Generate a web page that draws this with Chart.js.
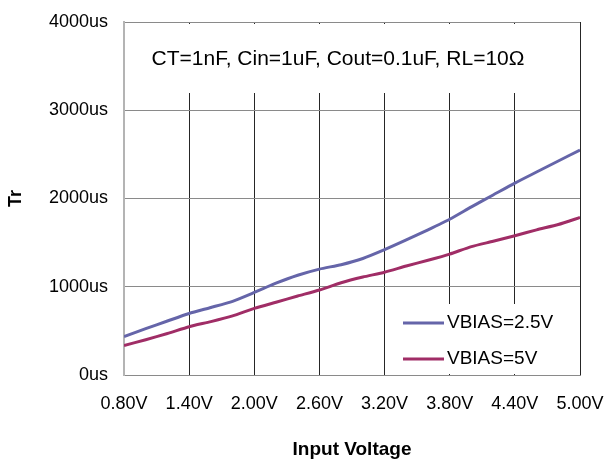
<!DOCTYPE html>
<html>
<head>
<meta charset="utf-8">
<title>Tr vs Input Voltage</title>
<script src="https://cdn.jsdelivr.net/npm/chart.js@4.4.1/dist/chart.umd.min.js"></script>
<style>
  html, body { margin: 0; padding: 0; background: #fff; }
  canvas { display: block; }
</style>
</head>
<body>
<canvas id="trChart" width="605" height="462"></canvas>
<script>
// input voltage (V) and rise time (us) for both bias settings
const voltages = [0.8, 1.0, 1.2, 1.4, 1.6, 1.8, 2.0, 2.2, 2.4, 2.6, 2.8,
                  3.0, 3.2, 3.4, 3.6, 3.8, 4.0, 4.2, 4.4, 4.6, 4.8, 5.0];
const trBias25 = [435, 525, 612, 697, 765, 835, 935, 1040, 1130, 1200, 1250,
                  1320, 1420, 1530, 1645, 1765, 1905, 2040, 2175, 2300, 2425, 2550];
const trBias5  = [335, 400, 470, 547, 605, 670, 755, 825, 895, 963, 1045,
                  1110, 1165, 1235, 1300, 1370, 1455, 1515, 1578, 1645, 1705, 1785];
const seriesLabels = ['VBIAS=2.5V', 'VBIAS=5V'];
const xTicks = [0.8, 1.4, 2.0, 2.6, 3.2, 3.8, 4.4, 5.0];
const yTicks = [0, 1000, 2000, 3000, 4000];
const conditions = 'CT=1nF, Cin=1uF, Cout=0.1uF, RL=10\u03A9';

const FONT = '"Liberation Sans", Arial, sans-serif';

const toPoints = (ys) => voltages.map((v, i) => ({ x: v, y: ys[i] }));

// white panels over the grid: the conditions strip at top and the legend box
const panelsPlugin = {
    id: 'panels',
    beforeDatasetsDraw(chart) {
        const { ctx, chartArea: a } = chart;
        ctx.save();
        ctx.fillStyle = '#fff';
        ctx.fillRect(a.left + 1, a.top + 2, a.right - a.left - 3, 69);
        ctx.fillStyle = '#000';
        ctx.font = '21px ' + FONT;
        ctx.textAlign = 'center';
        ctx.textBaseline = 'middle';
        ctx.fillText(conditions, 338, a.top + 37);

        // legend
        const lx = a.left + 271, ly = 304;
        ctx.fillStyle = '#fff';
        ctx.fillRect(lx, ly, a.right - lx - 2, a.bottom - ly - 1);
        ctx.font = '19px ' + FONT;
        ctx.textAlign = 'left';
        chart.data.datasets.forEach((ds, i) => {
            const y = 323 + i * 36;
            ctx.strokeStyle = ds.borderColor;
            ctx.lineWidth = 3;
            ctx.beginPath();
            ctx.moveTo(403, y);
            ctx.lineTo(444, y);
            ctx.stroke();
            ctx.fillStyle = '#000';
            ctx.fillText(ds.label, 447, y);
        });
        ctx.restore();
    }
};

new Chart(document.getElementById('trChart'), {
    type: 'line',
    data: {
        datasets: [
            { label: seriesLabels[0], data: toPoints(trBias25), borderColor: '#6565a9', borderWidth: 3, pointRadius: 0, tension: 0.2 },
            { label: seriesLabels[1], data: toPoints(trBias5), borderColor: '#a02d66', borderWidth: 3, pointRadius: 0, tension: 0.2 }
        ]
    },
    options: {
        responsive: false,
        animation: false,
        layout: { padding: { left: 0, top: 22, right: 25, bottom: 0 } },
        plugins: { legend: { display: false }, tooltip: { enabled: false } },
        scales: {
            x: {
                type: 'linear',
                min: 0.8,
                max: 5.0,
                afterBuildTicks: (s) => { s.ticks = xTicks.map(v => ({ value: v })); },
                afterFit: (s) => { s.height = 87; s.paddingLeft = 0; s.paddingRight = 0; },
                grid: {
                    drawTicks: false,
                    color: (c) => c.index === 0 ? '#b4b4b4' : '#262626',
                    lineWidth: (c) => c.index === 0 ? 2 : 1
                },
                border: { color: '#8a8a8a', width: 1 },
                ticks: {
                    padding: 18,
                    color: '#000',
                    font: { family: FONT, size: 18 },
                    maxRotation: 0,
                    callback: (v) => v.toFixed(2) + 'V'
                },
                title: {
                    display: true,
                    text: 'Input Voltage',
                    color: '#000',
                    font: { family: FONT, size: 19, weight: 'bold' },
                    padding: { top: 0, bottom: 1 }
                }
            },
            y: {
                min: 0,
                max: 4000,
                afterBuildTicks: (s) => { s.ticks = yTicks.map(v => ({ value: v })); },
                afterFit: (s) => { s.width = 124; s.paddingTop = 0; s.paddingBottom = 0; },
                grid: { drawTicks: false, color: '#8a8a8a', lineWidth: 1 },
                border: { color: '#b4b4b4', width: 2 },
                ticks: {
                    padding: 16,
                    color: '#000',
                    font: { family: FONT, size: 18 },
                    callback: (v) => v + 'us'
                },
                title: {
                    display: true,
                    text: 'Tr',
                    color: '#000',
                    font: { family: FONT, size: 18, weight: 'bold' },
                    padding: { top: 5, bottom: 0 }
                }
            }
        }
    },
    plugins: [panelsPlugin]
});
</script>
</body>
</html>
